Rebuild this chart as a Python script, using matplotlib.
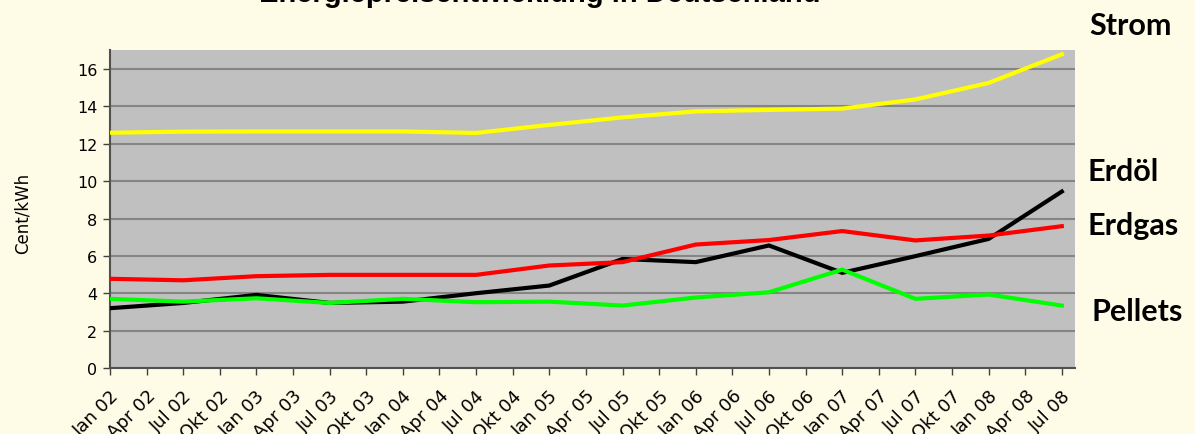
import numpy as np
import matplotlib
matplotlib.use('Agg')
import matplotlib.pyplot as plt

# Quarter tick labels along the x axis
tick_labels = []
for yr in ['02', '03', '04', '05', '06', '07', '08']:
    for m in ['Jan', 'Apr', 'Jul', 'Okt']:
        tick_labels.append(m + ' ' + yr)
tick_labels = tick_labels[:tick_labels.index('Jul 08') + 1]

# Half-yearly data points (Cent/kWh)
data_months = ['Jan 02', 'Jul 02', 'Jan 03', 'Jul 03', 'Jan 04', 'Jul 04', 'Jan 05',
               'Jul 05', 'Jan 06', 'Jul 06', 'Jan 07', 'Jul 07', 'Jan 08', 'Jul 08']
strom = [12.58, 12.64, 12.65, 12.65, 12.65, 12.57, 13.0, 13.4, 13.72, 13.8, 13.87, 14.36, 15.24, 16.77]
erdgas = [4.78, 4.7, 4.92, 4.99, 4.99, 4.99, 5.49, 5.67, 6.61, 6.85, 7.33, 6.83, 7.09, 7.59]
erdoel = [3.21, 3.49, 3.92, 3.49, 3.56, 4.01, 4.42, 5.84, 5.67, 6.56, 5.1, 5.99, 6.91, 9.44]
pellets = [3.71, 3.56, 3.74, 3.49, 3.71, 3.53, 3.56, 3.35, 3.78, 4.06, 5.27, 3.71, 3.94, 3.35]

series_names = ['Strom', 'Erdöl', 'Erdgas', 'Pellets']
series_colors = ['#FFFF00', '#000000', '#FF0000', '#00FF00']

bg = '#FEFBE6'
fig = plt.figure(figsize=(11.95, 4.35), dpi=100, facecolor=bg)
ax = fig.add_axes([110 / 1195, 65.7 / 435, 965 / 1195, 318.3 / 435])
ax.set_facecolor('#C0C0C0')

x = [tick_labels.index(m) for m in data_months]
for vals, name, col in zip([strom, erdoel, erdgas, pellets], series_names, series_colors):
    ax.plot(x, vals, color=col, lw=3.0, solid_joinstyle='miter', zorder=3)

ax.set_xlim(0, 26.36)
ax.set_ylim(0, 17)
ax.set_yticks(range(0, 17, 2))
ax.set_xticks(range(len(tick_labels)))
ax.set_xticklabels(tick_labels, rotation=45, ha='right', va='top',
                   rotation_mode='anchor', fontsize=13, family='DejaVu Sans')
ax.tick_params(axis='y', labelsize=11.5, length=5, width=1, color='#404040', pad=4)
ax.tick_params(axis='x', length=5, width=1, color='#404040', pad=8)
ax.grid(axis='y', color='#858585', lw=1.5, zorder=1)
ax.set_axisbelow(True)
for s in ['top', 'right']:
    ax.spines[s].set_visible(False)
for s in ['left', 'bottom']:
    ax.spines[s].set_color('#505050')
    ax.spines[s].set_linewidth(1.5)

fig.text(23 / 1195, 1 - 213 / 435, 'Cent/kWh', rotation=90, ha='center', va='center',
         fontsize=12, family=['Liberation Sans Narrow', 'DejaVu Sans'])

fig.text(540 / 1195, 1 - 2 / 435, 'Energiepreisentwicklung in Deutschland',
         ha='center', va='baseline', fontsize=21, fontweight='bold',
         family='Liberation Sans')

# labels on the right side
label_pos = [(1089, 26), (1087, 172), (1087, 226), (1091, 312)]
for name, (px, py) in zip(series_names, label_pos):
    fig.text(px / 1195, 1 - py / 435, name, ha='left', va='center',
             fontsize=22, fontweight='bold', family='Lato')

fig.savefig('out.png', dpi=100, facecolor=bg)
